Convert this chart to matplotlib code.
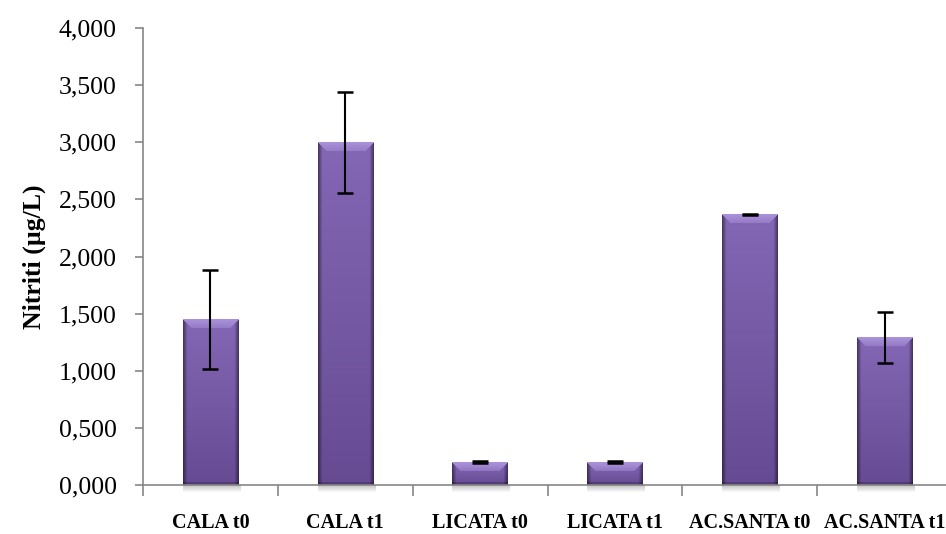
import numpy as np
import matplotlib
matplotlib.use("Agg")
import matplotlib.pyplot as plt
import matplotlib.ticker as ticker

# ── Data ─────────────────────────────────────────────────────────────────────
categories = ["CALA t0", "CALA t1", "LICATA t0", "LICATA t1", "AC.SANTA t0", "AC.SANTA t1"]
values     = [1.450, 3.000, 0.200, 0.200, 2.370, 1.290]
errors     = [0.435, 0.440, 0.010, 0.010, 0.005, 0.220]
y_ticks    = [0.0, 0.5, 1.0, 1.5, 2.0, 2.5, 3.0, 3.5, 4.0]

BAR_W = 0.41
SPINE = "#868686"

plt.rcParams["font.family"] = ["Liberation Serif", "DejaVu Serif"]

fig = plt.figure(figsize=(9.46, 5.34), dpi=100)
ax = fig.add_axes([143 / 946, 1 - 485 / 534, 809 / 946, 457 / 534])
ax.set_xlim(0, len(categories))
ax.set_ylim(0, 4)

x = np.arange(len(categories)) + 0.5


def bar_image(w_px, h_px):
    # horizontal + vertical shading with a lighter bevel at the top
    w_px, h_px = max(int(round(w_px)), 2), max(int(round(h_px)), 2)
    yy = np.linspace(0, 1, h_px)[:, None]          # 0 top, 1 bottom
    top = np.array([0x84, 0x67, 0xb5]) / 255
    bot = np.array([0x66, 0x4b, 0x93]) / 255
    img = top * (1 - yy[..., None]) + bot * yy[..., None]
    img = np.broadcast_to(img, (h_px, w_px, 3)).copy()
    # dark side edges
    xpix = np.arange(w_px)[None, :]
    edge = np.minimum(xpix, w_px - 1 - xpix)
    dark = np.clip(1 - edge / 4.0, 0, 1) * 0.45
    img *= (1 - dark[..., None])
    # bevel: lighter trapezoid at top
    bev = 9
    ypix = np.arange(h_px)[:, None]
    mask = (ypix < bev) & (xpix >= ypix) & (xpix <= w_px - 1 - ypix)
    light = np.array([0xaa, 0x92, 0xda]) / 255
    fade = np.clip(1 - ypix / bev, 0, 1)
    mix = np.where(mask, 0.45 + 0.55 * fade, 0)[..., None]
    img = img * (1 - mix) + light * mix
    # bottom dark band
    bmask = (ypix >= h_px - 3)
    img = np.where(bmask[..., None], img * 0.8, img)
    return img


fig.canvas.draw()
px_per_x = ax.transData.transform((1, 0))[0] - ax.transData.transform((0, 0))[0]
px_per_y = ax.transData.transform((0, 1))[1] - ax.transData.transform((0, 0))[1]

for xi, v in zip(x, values):
    left = xi - BAR_W / 2
    # soft shadow below the bar
    sh = np.linspace(0.35, 0, 8)[:, None] * np.ones((1, 10))
    sh_rgba = np.zeros(sh.shape + (4,))
    sh_rgba[..., :3] = 0.35
    sh_rgba[..., 3] = sh
    ax.imshow(sh_rgba, extent=(left, left + BAR_W + 0.02, -8 / px_per_y, 0),
              aspect="auto", zorder=1, clip_on=False, interpolation="bilinear")
    img = bar_image(BAR_W * px_per_x, v * px_per_y)
    ax.imshow(img, extent=(left, left + BAR_W, 0, v), aspect="auto",
              zorder=2, interpolation="bilinear")

ax.errorbar(x, values, yerr=errors, fmt="none", ecolor="black",
            elinewidth=1.5, capsize=6, capthick=1.8, zorder=4)

ax.set_xlim(0, len(categories))
ax.set_ylim(0, 4)

# axes styling
for side in ("top", "right"):
    ax.spines[side].set_visible(False)
for side in ("left", "bottom"):
    ax.spines[side].set_color(SPINE)
    ax.spines[side].set_linewidth(1.2)
    ax.spines[side].set_zorder(3)

ax.set_xticks(np.arange(len(categories) + 1))
ax.set_xticklabels([])
ax.set_xticks(x, minor=True)
ax.set_xticklabels(categories, minor=True, fontsize=14.5, fontweight="bold")
ax.tick_params(axis="x", which="major", length=8, color=SPINE, width=1.2)
ax.tick_params(axis="x", which="minor", length=0, pad=20)

ax.set_yticks(y_ticks)
ax.yaxis.set_major_formatter(
    ticker.FuncFormatter(lambda v, p: f"{v:.3f}".replace(".", ",")))
ax.tick_params(axis="y", length=6, color=SPINE, width=1.2, labelsize=18.5, pad=13)

ax.set_ylabel("Nitriti (µg/L)", fontsize=18.5, fontweight="bold", labelpad=9)

fig.savefig("out.png", dpi=100)
